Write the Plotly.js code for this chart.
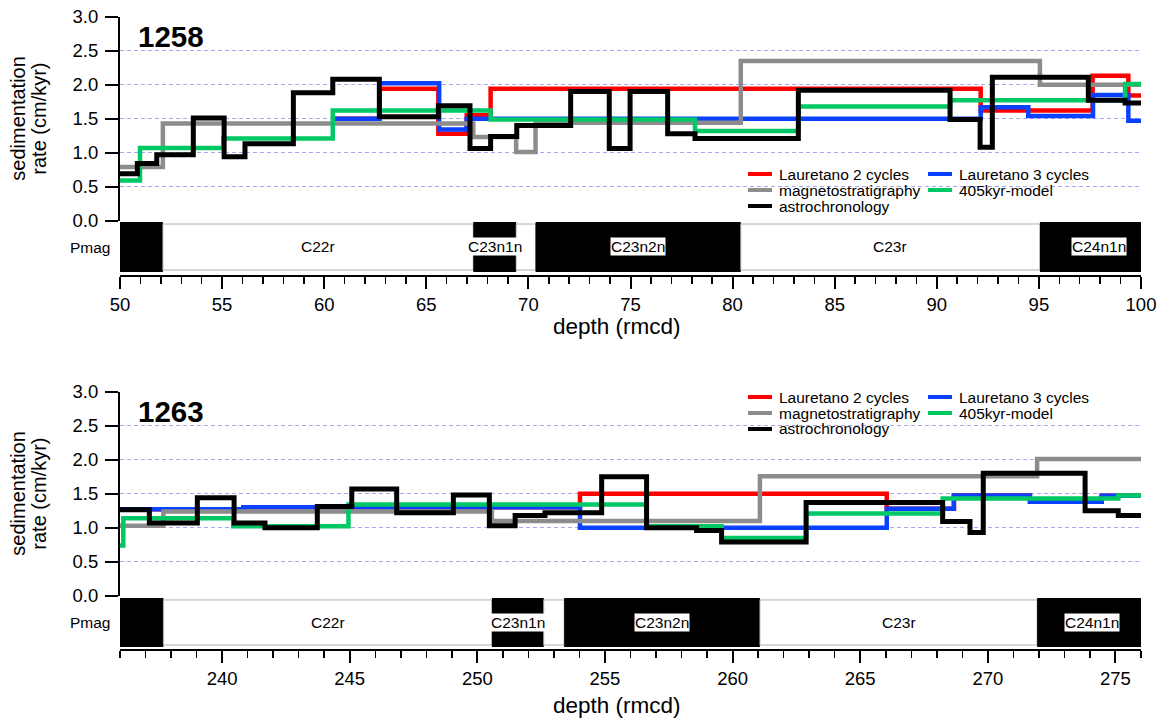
<!DOCTYPE html>
<html>
<head>
<meta charset="utf-8">
<script src="https://cdn.plot.ly/plotly-3.0.1.min.js"></script>
<style>
  html, body { margin: 0; padding: 0; background: #ffffff; }
  #chart { width: 1166px; height: 721px; }
</style>
</head>
<body>
<div id="chart"></div>
<script>
// ---------- Site 1258 (depth 50–100 rmcd) ----------
// Each series: depth breakpoints and the sedimentation rate held over each interval.
const s1258_lauretano2_depth = [60.42, 62.7, 65.59, 66.98, 68.15, 92.15, 97.63, 99.38, 100];
const s1258_lauretano2_rate  = [1.50, 1.94, 1.28, 1.55, 1.94, 1.62, 2.13, 1.84];
const s1258_lauretano3_depth = [60.42, 62.7, 65.63, 66.98, 92.15, 94.48, 97.65, 99.38, 100];
const s1258_lauretano3_rate  = [1.50, 2.02, 1.34, 1.50, 1.67, 1.54, 1.85, 1.47];
const s1258_magneto_depth = [50, 52.1, 67.3, 69.4, 70.35, 80.4, 95.05, 100];
const s1258_magneto_rate  = [0.79, 1.43, 1.23, 1.01, 1.44, 2.35, 2.00];
const s1258_model405_depth = [50, 50.98, 55.06, 60.42, 68.15, 78.16, 83.22, 90.65, 99.22, 100];
const s1258_model405_rate  = [0.59, 1.07, 1.21, 1.62, 1.49, 1.32, 1.68, 1.77, 2.01];
const s1258_astro_depth = [50, 50.85, 51.8, 53.59, 55.1, 56.12, 58.49, 60.42, 62.7, 65.59, 67.14, 68.15,
                           69.43, 72.07, 73.96, 74.98, 76.82, 78.16, 83.22, 90.65, 92.12, 92.72, 97.42, 99.22, 100];
const s1258_astro_rate  = [0.69, 0.84, 0.97, 1.51, 0.94, 1.13, 1.88, 2.08, 1.53, 1.69, 1.06, 1.24,
                           1.40, 1.90, 1.06, 1.90, 1.28, 1.21, 1.92, 1.49, 1.08, 2.11, 1.77, 1.73];

// Magnetochrons at 1258: interval edges, polarity (1 = normal, black) and names
const s1258_chron_edges    = [49.5, 52.1, 67.3, 69.4, 70.35, 80.4, 95.05, 100.8];
const s1258_chron_polarity = [1, 0, 1, 0, 1, 0, 1];
const s1258_chron_names    = ['', 'C22r', 'C23n1n', '', 'C23n2n', 'C23r', 'C24n1n'];

// ---------- Site 1263 (depth 236–276 rmcd) ----------
const s1263_lauretano2_depth = [236, 240.83, 254.02, 266.04, 268.67, 271.65, 274.46, 276];
const s1263_lauretano2_rate  = [1.27, 1.30, 1.50, 1.28, 1.475, 1.38, 1.47];
const s1263_lauretano3_depth = [236, 240.83, 254.02, 266.04, 268.67, 271.65, 274.46, 276];
const s1263_lauretano3_rate  = [1.27, 1.30, 1.00, 1.28, 1.475, 1.38, 1.47];
const s1263_magneto_depth = [236, 237.7, 250.57, 261.07, 271.93, 276];
const s1263_magneto_rate  = [1.03, 1.24, 1.10, 1.755, 2.01];
const s1263_model405_depth = [236, 236.13, 240.44, 244.95, 256.63, 259.57, 262.88, 268.23, 275.11, 276];
const s1263_model405_rate  = [0.74, 1.14, 1.02, 1.34, 1.02, 0.85, 1.21, 1.43, 1.475];
const s1263_astro_depth = [236, 237.15, 239.03, 240.47, 241.68, 243.73, 245.08, 246.84, 249.06, 250.47, 251.48,
                           252.65, 254.87, 256.63, 258.59, 259.57, 262.88, 268.23, 269.30, 269.82, 273.81, 275.11, 276];
const s1263_astro_rate  = [1.265, 1.07, 1.44, 1.07, 1.00, 1.31, 1.57, 1.22, 1.48, 1.03, 1.18,
                           1.22, 1.75, 1.00, 0.96, 0.79, 1.37, 1.09, 0.93, 1.80, 1.25, 1.18];

const s1263_chron_edges    = [235.5, 237.7, 250.57, 252.6, 253.4, 261.07, 271.93, 276.2];
const s1263_chron_polarity = [1, 0, 1, 0, 1, 0, 1];
const s1263_chron_names    = ['', 'C22r', 'C23n1n', '', 'C23n2n', 'C23r', 'C24n1n'];

// Series names and colours (legend order)
const seriesNames  = ['Lauretano 2 cycles', 'Lauretano 3 cycles', 'magnetostratigraphy', '405kyr-model', 'astrochronology'];
const seriesColors = ['#ff0000', '#0a40ff', '#8c8c8c', '#00c864', '#000000'];
const yTicks = [0, 0.5, 1.0, 1.5, 2.0, 2.5, 3.0];
const yTitleLines = ['sedimentation', 'rate (cm/kyr)'];
const xTitle = 'depth (rmcd)';

// ---------- page geometry ----------
const W = 1166, H = 721, ML = 120, MR = 25;
const PW = W - ML - MR;
const fy = px => 1 - px / H;          // pixel row -> paper fraction
const fx = px => (px - ML) / PW;      // pixel column -> paper fraction

const SANS = 'Liberation Sans, Arial, Helvetica, sans-serif';
const TICK_FONT = { family: SANS, size: 18.5, color: '#000' };
const TITLE_FONT = { family: SANS, size: 20, color: '#000' };
const LABEL_FONT = { family: SANS, size: 15.5, color: '#000' };

// step curve: value held from each breakpoint to the next
function stepXY(depth, rate) {
  return { x: depth.slice(), y: rate.concat([rate[rate.length - 1]]) };
}

const panels = [
  {
    site: '1258', xa: 'x', ya: 'y', yb: 'y2',
    series: [
      [s1258_lauretano2_depth, s1258_lauretano2_rate],
      [s1258_lauretano3_depth, s1258_lauretano3_rate],
      [s1258_magneto_depth, s1258_magneto_rate],
      [s1258_model405_depth, s1258_model405_rate],
      [s1258_astro_depth, s1258_astro_rate]
    ],
    chron: [s1258_chron_edges, s1258_chron_polarity, s1258_chron_names],
    yTop: 16.7, yZero: 220.7, barTop: 222, barBot: 272, xLine: 276, xTitleY: 326,
    legendRows: [174, 190, 206]
  },
  {
    site: '1263', xa: 'x2', ya: 'y3', yb: 'y4',
    series: [
      [s1263_lauretano2_depth, s1263_lauretano2_rate],
      [s1263_lauretano3_depth, s1263_lauretano3_rate],
      [s1263_magneto_depth, s1263_magneto_rate],
      [s1263_model405_depth, s1263_model405_rate],
      [s1263_astro_depth, s1263_astro_rate]
    ],
    chron: [s1263_chron_edges, s1263_chron_polarity, s1263_chron_names],
    yTop: 391.7, yZero: 595.7, barTop: 598, barBot: 647, xLine: 650, xTitleY: 705,
    legendRows: [397, 413, 429]
  }
];

// drawing order: red, blue, grey, green, black on top
const traces = [];
const shapes = [];
const annotations = [];

panels.forEach(p => {
  p.series.forEach((s, i) => {
    const xy = stepXY(s[0], s[1]);
    traces.push({
      type: 'scatter', mode: 'lines', name: seriesNames[i],
      x: xy.x, y: xy.y, xaxis: p.xa, yaxis: p.ya,
      line: { shape: 'hv', color: seriesColors[i], width: i === 4 ? 5 : 4.5 },
      showlegend: false, hoverinfo: 'x+y+name'
    });
  });
  // empty trace so the polarity strip subplot exists
  traces.push({ type: 'scatter', x: [], y: [], xaxis: p.xa, yaxis: p.yb, showlegend: false, hoverinfo: 'skip' });

  // polarity strip
  const [edges, pol, names] = p.chron;
  for (let k = 0; k < pol.length; k++) {
    shapes.push({
      type: 'rect', xref: p.xa, yref: p.yb, layer: 'below',
      x0: edges[k], x1: edges[k + 1], y0: pol[k] ? 0 : 0.04, y1: pol[k] ? 1 : 0.96,
      fillcolor: pol[k] ? '#000000' : '#ffffff', line: { width: pol[k] ? 0 : 0.8, color: '#9a9a9a' }
    });
    if (names[k]) {
      annotations.push({
        xref: p.xa, yref: p.yb, x: (edges[k] + edges[k + 1]) / 2, y: 0.5,
        text: names[k], showarrow: false, font: LABEL_FONT,
        bgcolor: '#ffffff', borderpad: 0, xanchor: 'center', yanchor: 'middle'
      });
    }
  }
  annotations.push({
    xref: 'paper', yref: 'paper', x: fx(113), y: fy((p.barTop + p.barBot) / 2),
    text: 'Pmag', showarrow: false, font: LABEL_FONT, xanchor: 'right', yanchor: 'middle'
  });
  // site label
  annotations.push({
    xref: 'paper', yref: 'paper', x: fx(136), y: fy(p.yTop + 20),
    text: '<b>' + p.site + '</b>', showarrow: false,
    font: { family: SANS, size: 29.5, color: '#000' },
    xanchor: 'left', yanchor: 'middle'
  });
  // axis titles
  const yMid = fy((p.yTop + p.yZero) / 2);
  yTitleLines.forEach((line, j) => {
    annotations.push({
      xref: 'paper', yref: 'paper', x: fx(j === 0 ? 18 : 39), y: yMid,
      text: line, textangle: -90, showarrow: false, font: TITLE_FONT,
      xanchor: 'center', yanchor: 'middle'
    });
  });
  annotations.push({
    xref: 'paper', yref: 'paper', x: fx(617), y: fy(p.xTitleY),
    text: xTitle, showarrow: false, font: { family: SANS, size: 22.5, color: '#000' },
    xanchor: 'center', yanchor: 'middle'
  });
  // legend: two columns of line samples and names
  const cols = [[0, 2, 4], [1, 3]];
  const colX = [748, 928];
  cols.forEach((col, c) => {
    col.forEach((si, r) => {
      const yy = fy(p.legendRows[r]);
      shapes.push({
        type: 'line', xref: 'paper', yref: 'paper',
        x0: fx(colX[c]), x1: fx(colX[c] + 24), y0: yy, y1: yy,
        line: { color: seriesColors[si], width: 4 }
      });
      annotations.push({
        xref: 'paper', yref: 'paper', x: fx(colX[c] + 29), y: yy,
        text: seriesNames[si], showarrow: false, font: LABEL_FONT,
        xanchor: 'left', yanchor: 'middle'
      });
    });
  });
});

function rateAxis(p) {
  return {
    domain: [fy(p.yZero), fy(p.yTop)], range: [0, 3], anchor: p.xa,
    tickvals: yTicks, ticktext: yTicks.map(v => v.toFixed(1)),
    ticks: 'outside', ticklen: 13, tickwidth: 2, tickcolor: '#000',
    ticklabelstandoff: 3,
    showline: true, linewidth: 2, linecolor: '#000',
    showgrid: true, gridcolor: '#a8a8f0', gridwidth: 1, griddash: '4px,3px',
    zeroline: false, tickfont: TICK_FONT, fixedrange: true
  };
}
function stripAxis(p) {
  return { domain: [fy(p.barBot), fy(p.barTop)], range: [0, 1], anchor: p.xa, visible: false, fixedrange: true };
}
function depthAxis(p, range) {
  return {
    domain: [0, 1], range: range, anchor: 'free', position: fy(p.xLine),
    dtick: 5, tick0: 0, ticks: 'outside', ticklen: 12, tickwidth: 2, tickcolor: '#000',
    minor: { dtick: 1, tick0: 0, ticks: 'outside', ticklen: 7, tickwidth: 1.5, tickcolor: '#000', showgrid: false },
    showline: true, linewidth: 2, linecolor: '#000', showgrid: false, zeroline: false,
    tickfont: TICK_FONT, fixedrange: true
  };
}

const layout = {
  width: W, height: H,
  margin: { l: ML, r: MR, t: 0, b: 0 },
  paper_bgcolor: '#ffffff', plot_bgcolor: 'rgba(0,0,0,0)',
  showlegend: false,
  xaxis: depthAxis(panels[0], [50, 100]),
  yaxis: rateAxis(panels[0]),
  yaxis2: stripAxis(panels[0]),
  xaxis2: depthAxis(panels[1], [236, 276]),
  yaxis3: rateAxis(panels[1]),
  yaxis4: stripAxis(panels[1]),
  shapes: shapes,
  annotations: annotations
};

Plotly.newPlot('chart', traces, layout, { displayModeBar: false, staticPlot: true });
</script>
</body>
</html>
